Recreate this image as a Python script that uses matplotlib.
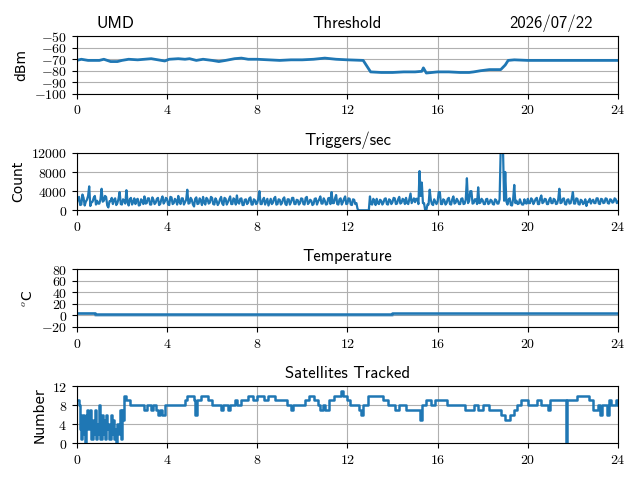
import numpy as np
import matplotlib
matplotlib.use("Agg")
import matplotlib.pyplot as plt
from matplotlib.ticker import FuncFormatter

plt.rcParams['mathtext.fontset'] = 'cm'
plt.rcParams['font.family'] = ['DejaVu Sans']

# ---------------- data ----------------
hour_ticks = [0, 4, 8, 12, 16, 20, 24]

thr_hours = [0.0, 0.2, 0.5, 0.8, 1.0, 1.2, 1.5, 1.8, 2.0, 2.3, 2.7, 3.0, 3.3, 3.6, 3.9,
             4.1, 4.5, 4.8, 5.0, 5.3, 5.6, 6.0, 6.3, 6.6, 7.0, 7.3, 7.6, 8.0, 8.5, 9.0,
             9.5, 10.0, 10.5, 11.0, 11.5, 12.0, 12.7, 13.03, 13.5, 14.0, 14.5, 15.0,
             15.3, 15.37, 15.5, 16.0, 16.5, 17.0, 17.4, 17.6, 17.9, 18.3, 18.8, 19.0,
             19.13, 19.4, 20.0, 21.0, 22.0, 23.0, 24.0]
thr_dbm = [-71, -70, -71, -71, -71, -70, -72, -72, -71, -70, -70.5, -70, -69.5, -70.5, -71.5,
           -70, -69.5, -70, -69.5, -71, -70, -71, -72, -71, -69.5, -69, -70, -70, -70.5, -71,
           -70.5, -70.5, -70, -69, -70, -70.5, -71, -81, -81.5, -81.5, -81, -81,
           -80.5, -77.5, -82, -81, -81, -81.5, -81.5, -81, -80, -79, -79, -75,
           -71, -70.5, -71, -71, -71, -71, -71]

# triggers per second, sampled every 0.05 h from 0 to 24 (one row per hour)
trig_counts = [
    1500, 2400, 2800, 1100, 1200, 3300, 2600, 1000, 1800, 2200, 3000, 5000, 900, 1700, 1800, 2600, 3000, 1200, 2000, 1400,
    1400, 2300, 4500, 1800, 2000, 3000, 2800, 1000, 600, 1900, 1900, 2600, 1300, 2200, 2500, 1100, 1500, 2400, 3800, 1300,
    1200, 2300, 2000, 1400, 4200, 1800, 1000, 2300, 2600, 1200, 1700, 2500, 1300, 2200, 2400, 1000, 1100, 2300, 2000, 1300,
    2900, 1400, 1500, 2500, 2500, 1200, 1200, 2700, 2200, 1300, 1600, 2400, 2600, 1100, 1300, 2300, 2900, 1400, 1800, 2600,
    2400, 1200, 1100, 2800, 2700, 1300, 1500, 2400, 2000, 1200, 3000, 1700, 1300, 2500, 2500, 1200, 1700, 2200, 4300, 1400,
    1500, 2600, 2200, 1200, 800, 2400, 2700, 1300, 1400, 2500, 2000, 1100, 2800, 1600, 1200, 2600, 2300, 1400, 1600, 2800,
    2600, 1300, 1200, 2500, 2000, 1100, 1500, 2300, 2800, 1400, 1100, 2600, 2400, 1200, 1700, 2300, 2900, 1300, 1300, 2500,
    2200, 1200, 3100, 1600, 1400, 2400, 2500, 1100, 1100, 2200, 2300, 1300, 1600, 2500, 2700, 1200, 1200, 2300, 2100, 1300,
    1500, 2500, 4000, 1300, 1300, 2200, 2600, 1200, 1800, 2400, 1000, 1700, 2400, 1300, 1600, 2500, 2800, 1200, 1300, 2300,
    2200, 1200, 1500, 2400, 2700, 1300, 1100, 2300, 2300, 1200, 1700, 2600, 2600, 1300, 1300, 2200, 2100, 1200, 1500, 2500,
    2400, 1300, 1200, 2600, 2800, 1300, 1600, 2200, 2000, 1100, 1300, 2400, 2500, 1200, 1800, 2300, 2900, 1400, 1400, 2500,
    2000, 1200, 1300, 2500, 2600, 1300, 3800, 1500, 1500, 2500, 3200, 1300, 1200, 2300, 2500, 1200, 1700, 2400, 2900, 1300,
    1400, 2500, 2400, 1200, 1100, 2300, 2200, 1300, 1500, 300, 0, 0, 0, 0, 0, 0, 0, 0, 0, 0,
    2900, 1300, 1200, 2400, 1800, 1100, 2400, 1500, 1300, 2200, 2000, 1200, 1600, 2400, 2500, 1300, 1200, 2300, 2100, 1300,
    1700, 2600, 2500, 1300, 1400, 2300, 2800, 1400, 1600, 2400, 2200, 1300, 2600, 1500, 1300, 2400, 3500, 1500, 2000, 2500,
    1700, 2400, 2400, 1300, 8200, 3000, 5800, 1500, 1500, 0, 0, 1200, 1200, 4300, 2200, 1300, 1100, 2300, 1800, 1300,
    1800, 3800, 3800, 1300, 1300, 2300, 2100, 1200, 1500, 2400, 2600, 1300, 1200, 2300, 2900, 1400, 1600, 2400, 2000, 1300,
    1300, 2400, 2500, 1300, 1400, 2300, 6700, 1500, 2000, 4000, 4000, 1400, 1500, 2300, 2300, 1300, 4800, 1500, 1600, 2400,
    2100, 1300, 1300, 2300, 2400, 1300, 1500, 2200, 2000, 1300, 1200, 2300, 2100, 1400, 1400, 2300, 13000, 13000, 13000, 2000,
    8000, 1800, 1200, 2300, 2500, 1100, 1000, 2300, 5300, 1500, 2000, 1300, 1400, 2300, 1600, 1200, 1200, 2300, 1500, 1400,
    2400, 1500, 1500, 2500, 2200, 1300, 1800, 2400, 2600, 1300, 1300, 2500, 3100, 1500, 1700, 2400, 2300, 1300, 1300, 2200,
    2600, 1500, 1500, 2400, 2200, 1300, 1400, 2300, 4500, 1500, 1600, 2400, 2500, 1300, 1200, 2200, 2300, 1400, 1500, 2500,
    3800, 1400, 1400, 2500, 2400, 1300, 1200, 2200, 2000, 1300, 1500, 2300, 900, 1800, 1800, 2400, 1400, 2000, 2200, 1500,
    1500, 2500, 2500, 1400, 1300, 2400, 2300, 1500, 1600, 2500, 2400, 1500, 1400, 2300, 2200, 1600, 1700, 2500, 2300, 1500,
    1800]
trig_hours = np.linspace(0, 24, len(trig_counts))

temp_hours = [0.0, 0.8, 14.0, 24.0]
temp_c = [5.0, 3.0, 4.5, 4.5]
temp_low_c = [3.5, 1.5, 3.0, 3.0]

# satellites: change points (hour, count)
sat_hours = [0.0, 0.05, 0.1, 0.15, 0.2, 0.25, 0.3, 0.35, 0.4, 0.45, 0.5, 0.55, 0.6, 0.65,
             0.7, 0.75, 0.8, 0.85, 0.9, 0.95, 1.0, 1.05, 1.1, 1.15, 1.2, 1.25, 1.3, 1.35,
             1.4, 1.45, 1.5, 1.55, 1.6, 1.65, 1.7, 1.75, 1.8, 1.85, 1.9, 1.95, 2.0, 2.05,
             2.1, 2.2, 2.35, 3.0, 3.1, 3.3, 3.4, 3.5, 3.6, 3.7, 3.8, 3.9, 4.8, 4.9, 5.2,
             5.25, 5.35, 5.5, 5.8, 6.0, 6.4, 6.5, 6.7, 6.8, 7.0, 7.1, 7.3, 7.6, 7.8, 8.0,
             8.3, 8.5, 8.8, 9.3, 9.5, 9.6, 10.1, 10.3, 10.5, 10.7, 10.8, 10.9, 11.0, 11.2,
             11.4, 11.7, 11.8, 12.0, 12.1, 12.5, 12.6, 12.7, 12.9, 13.6, 13.8, 14.1, 14.3,
             14.6, 15.2, 15.3, 15.5, 15.7, 15.9, 16.4, 17.2, 17.6, 17.8, 18.0, 18.3, 18.8,
             19.0, 19.2, 19.4, 19.5, 19.7, 20.0, 20.4, 20.6, 20.9, 21.0, 21.7, 21.75, 22.2,
             22.7, 22.9, 23.1, 23.2, 23.3, 23.5, 23.6, 23.7, 23.9, 24.0]
sat_count = [9, 9, 8, 3, 1, 6, 2, 0, 6, 7, 3, 6, 7, 1,
             5, 2, 7, 1, 4, 2, 8, 1, 6, 2, 5, 1, 6, 3,
             4, 1, 6, 2, 5, 1, 3, 0, 4, 2, 7, 1, 7, 5,
             10, 9, 8, 7, 8, 7, 8, 7, 6, 7, 6, 8, 9, 10, 9,
             6, 9, 10, 9, 8, 7, 8, 7, 8, 9, 8, 9, 10, 9, 10,
             9, 10, 9, 8, 7, 8, 9, 10, 9, 8, 7, 8, 7, 9,
             10, 11, 10, 9, 8, 7, 6, 8, 10, 9, 8, 7, 8,
             7, 5, 8, 9, 8, 9, 8, 7, 8, 7, 8, 7, 6,
             5, 6, 7, 8, 9, 8, 9, 8, 7, 9, 0, 9, 10,
             9, 7, 8, 6, 8, 6, 9, 8, 9, 8]

# ---------------- figure ----------------
fig, axes = plt.subplots(4, 1, figsize=(6.4, 4.8), dpi=100)
fig.subplots_adjust(left=0.12, right=0.9656, top=0.9244, bottom=0.0761, hspace=1.03)

mfmt = FuncFormatter(lambda v, p: r'$%d$' % int(round(v)) if v >= 0 else r'$-%d$' % int(round(-v)))
title_font = dict(family='cmss10', size=12)
blue = '#1f77b4'

def style(ax, ylim, yticks, ylabel, title):
    ax.set_xlim(0, 24)
    ax.set_ylim(*ylim)
    ax.set_xticks(hour_ticks)
    ax.set_yticks(yticks)
    ax.xaxis.set_major_formatter(mfmt)
    ax.yaxis.set_major_formatter(mfmt)
    ax.grid(True)
    ax.set_ylabel(ylabel)
    ax.set_title(title, fontdict=title_font)

ax = axes[0]
ax.plot(thr_hours, thr_dbm, color=blue, lw=2)
style(ax, (-100, -50), [-100, -90, -80, -70, -60, -50], 'dBm', 'Threshold')
ax.set_title('UMD', loc='left', x=0.0355, fontdict=title_font)
ax.set_title('2026/07/22', loc='right', x=0.954, fontdict=title_font)

ax = axes[1]
ax.plot(trig_hours, trig_counts, color=blue, lw=1.6)
style(ax, (0, 12000), [0, 4000, 8000, 12000], 'Count', 'Triggers/sec')

ax = axes[2]
ax.plot(temp_hours, temp_low_c, color=blue, alpha=0.35, lw=2, drawstyle='steps-post')
ax.plot(temp_hours, temp_c, color=blue, lw=1.8, drawstyle='steps-post')
style(ax, (-20, 80), [-20, 0, 20, 40, 60, 80], r'$^o$C', 'Temperature')

ax = axes[3]
ax.plot(sat_hours, sat_count, color=blue, lw=1.8, drawstyle='steps-post')
style(ax, (0, 12), [0, 4, 8, 12], 'Number', 'Satellites Tracked')

fig.savefig('out.png', dpi=100)
